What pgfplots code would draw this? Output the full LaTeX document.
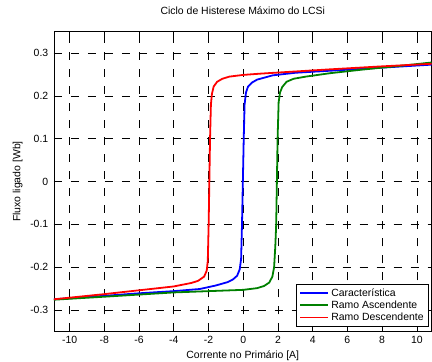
\documentclass[border=0pt]{standalone}
\usepackage{pgfplots}
\pgfplotsset{compat=1.18}
\usepackage{fontspec}
\setmainfont{Liberation Sans}
\definecolor{mgreen}{rgb}{0,0.5,0}
\definecolor{mred}{rgb}{1,0,0}
\begin{document}
\fontsize{10.5}{12}\selectfont
\begin{tikzpicture}
\begin{axis}[
  scale only axis, width=378bp, height=300bp,
  xmin=-10.9, xmax=10.85, ymin=-0.35, ymax=0.35,
  xtick={-10,-8,-6,-4,-2,0,2,4,6,8,10},
  ytick={-0.3,-0.2,-0.1,0,0.1,0.2,0.3},
  yticklabels={-0.3,-0.2,-0.1,0,0.1,0.2,0.3},
  /pgf/number format/assume math mode=true,
  tick align=inside, major tick length=4bp,
  tick style={black, line width=0.6pt},
  axis line style={line width=0.8pt},
  grid=major,
  major grid style={black, dash pattern=on 8bp off 9bp, line width=0.6pt},
  ticklabel style={font=\fontsize{10.5}{12}\selectfont},
  yticklabel style={xshift=-2bp},
  xticklabel style={yshift=-1bp},
  title={Ciclo de Histerese Máximo do LCSi},
  title style={font=\fontsize{10.5}{12}\selectfont, at={(axis description cs:0.5,1)},
    anchor=base, inner sep=0pt, yshift=11bp},
  xlabel={Corrente no Primário [A]},
  ylabel={Fluxo ligado [Wb]},
  xlabel style={font=\fontsize{10.5}{12}\selectfont, at={(axis description cs:0.5,0)},
    anchor=south, inner sep=0pt, yshift=-29.5bp},
  ylabel style={font=\fontsize{10.5}{12}\selectfont, inner sep=0pt},
  ylabel shift=4bp,
  extra description/.code={
    \path (0,1) -- ++(0,31.7bp);
    \path (0,0) -- ++(0,-30.3bp);
    \path (0,0.5) -- ++(-54bp,0);
  },
  legend style={at={(rel axis cs:0.993,0.017)}, anchor=south east,
    font=\fontsize{10.5}{12}\selectfont, draw=black, line width=0.6pt,
    row sep=-1bp, inner xsep=3bp, inner ysep=2bp},
  legend cell align=left,
  legend image code/.code={\draw[#1] (0cm,0cm) -- (1.0cm,0cm);},
]
\addplot[blue, line width=1.8pt] coordinates {
(-10.9,-0.275) (-8,-0.267) (-6,-0.261) (-4,-0.256) (-2.5,-0.251) (-1.6,-0.243)
(-0.9,-0.235) (-0.6,-0.229) (-0.35,-0.22) (-0.2,-0.205) (-0.12,-0.18) (-0.07,-0.1)
(-0.02,0) (0.03,0.1) (0.08,0.18) (0.16,0.208) (0.28,0.222) (0.5,0.231) (0.8,0.238)
(1.7,0.248) (3,0.254) (5.1,0.259) (8,0.266) (10.85,0.273)};
\addplot[mgreen, line width=1.8pt] coordinates {
(-10.9,-0.276) (-8,-0.269) (-6,-0.264) (-4,-0.259) (-2,-0.256) (0,-0.253)
(0.8,-0.249) (1.2,-0.244) (1.5,-0.236) (1.68,-0.222) (1.78,-0.2) (1.85,-0.15)
(1.9,-0.1) (1.94,0) (1.98,0.1) (2.04,0.185) (2.12,0.208) (2.25,0.221) (2.5,0.233)
(2.9,0.240) (3.6,0.245) (5,0.253) (7,0.262) (9,0.270) (10.85,0.278)};
\addplot[mred, line width=1.8pt] coordinates {
(10.85,0.275) (8,0.269) (5,0.262) (3,0.257) (1,0.252) (0,0.249) (-0.8,0.245)
(-1.2,0.240) (-1.5,0.233) (-1.7,0.222) (-1.8,0.205) (-1.86,0.18) (-1.91,0.1)
(-1.95,0) (-1.99,-0.1) (-2.04,-0.185) (-2.1,-0.208) (-2.25,-0.222) (-2.6,-0.232)
(-3,-0.237) (-4,-0.245) (-6,-0.254) (-8,-0.263) (-10.9,-0.275)};
\legend{Característica, Ramo Ascendente, Ramo Descendente}
\end{axis}
\end{tikzpicture}
\end{document}
